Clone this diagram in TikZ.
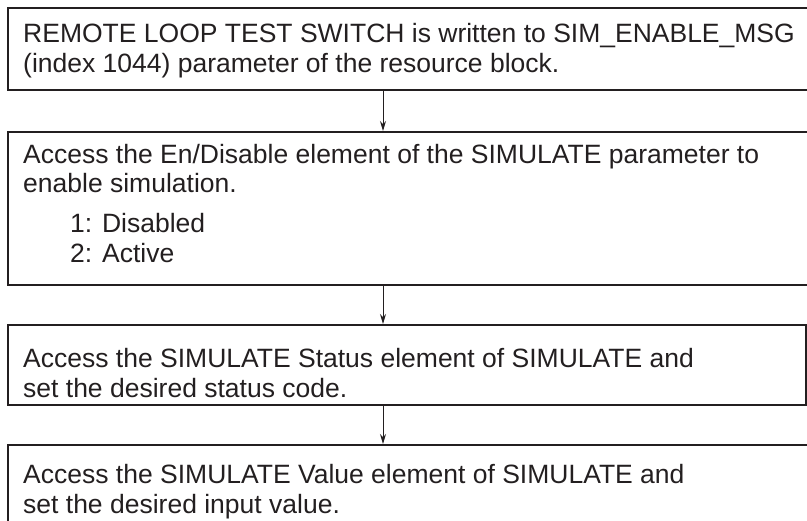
\documentclass[tikz,border=0pt]{standalone}
\usepackage{fontspec}
\setmainfont{Liberation Sans}
\usetikzlibrary{arrows.meta}
\definecolor{ink}{HTML}{231F20}
\tikzset{
  stepbox/.style={draw=ink, line width=2pt, rectangle, inner sep=0pt, fill=none},
  txt/.style={anchor=base west, inner sep=0pt, text=ink, font=\fontsize{26.5}{30}\selectfont},
  flow/.style={draw=ink, line width=1pt, -{Stealth[length=10pt,width=6pt]}}
}
\begin{document}
\begin{tikzpicture}[x=1pt,y=-1pt]
\useasboundingbox (0,0) rectangle (807,521);
\clip (0,0) rectangle (807,521);
\coordinate (ax) at (383,0);
\node[stepbox, minimum width=804pt, minimum height=82pt] (b1) at (410,49) {};
\node[stepbox, minimum width=804pt, minimum height=153pt] (b2) at (410,208.5) {};
\node[stepbox, minimum width=798pt, minimum height=80pt] (b3) at (407,365) {};
\node[stepbox, minimum width=804pt, minimum height=85pt] (b4) at (410,487.5) {};
\node[txt] (t1a) at (23,43) {REMOTE LOOP TEST SWITCH is written to SIM\_ENABLE\_MSG};
\node[txt] (t1b) at (23,73) {(index 1044) parameter of the resource block.};
\node[txt] (t2a) at (23,164) {Access the En/Disable element of the SIMULATE parameter to};
\node[txt] (t2b) at (23,193) {enable simulation.};
\node[txt] (t2c) at (70,233) {1: Disabled};
\node[txt] (t2d) at (70,263) {2: Active};
\node[txt] (t3a) at (23,368) {Access the SIMULATE Status element of SIMULATE and};
\node[txt] (t3b) at (23,398) {set the desired status code.};
\node[txt] (t4a) at (23,484) {Access the SIMULATE Value element of SIMULATE and};
\node[txt] (t4b) at (23,514) {set the desired input value.};
\draw[flow] (b1.south -| ax) -- (b2.north -| ax);
\draw[flow] (b2.south -| ax) -- (b3.north -| ax);
\draw[flow] (b3.south -| ax) -- (b4.north -| ax);
\end{tikzpicture}
\end{document}
